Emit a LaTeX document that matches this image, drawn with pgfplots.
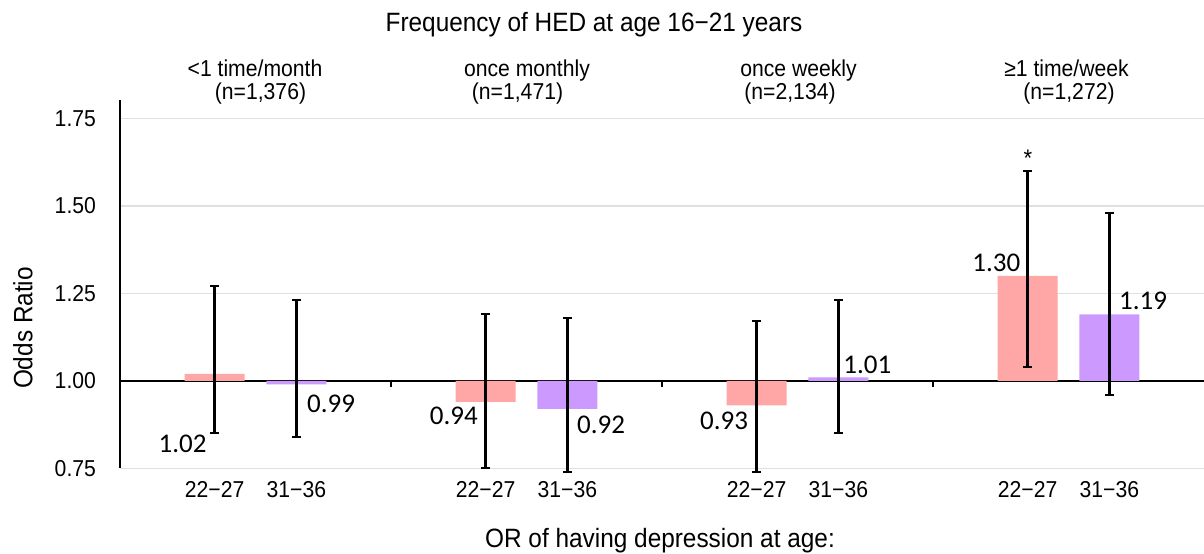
\documentclass[border=0pt]{standalone}
\usepackage{fontspec}
\setmainfont{Liberation Sans}[FakeStretch=0.92]
\newfontfamily\calfont{Carlito}
\usepackage{pgfplots}
\usepackage{pgfplotstable}
\pgfplotsset{compat=1.18}
\definecolor{pinkbar}{HTML}{FFA6A6}
\definecolor{purplebar}{HTML}{CC99FF}
\definecolor{gridgray}{HTML}{E0E0E0}

% group, odds ratio, lower CI, upper CI
\pgfplotstableread{
g or lo hi
1 1.02 0.85 1.27
2 0.94 0.75 1.19
3 0.93 0.74 1.17
4 1.30 1.04 1.60
}\earlytab
\pgfplotstableread{
g or lo hi
1 0.99 0.84 1.23
2 0.92 0.74 1.18
3 1.01 0.85 1.23
4 1.19 0.96 1.48
}\latetab

\begin{document}
\begin{tikzpicture}
\useasboundingbox (-60pt,-42.35pt) rectangle (542pt,234.15pt);
\begin{axis}[
  at={(0,0)}, anchor=south west,
  scale only axis, width=542pt, height=184pt,
  xmin=0.5, xmax=4.5, ymin=-0.25, ymax=0.802,
  axis lines*=left,
  x axis line style={draw=none},
  y axis line style={line width=0.8pt, black},
  xtick={0.849,1.151,1.849,2.151,2.849,3.151,3.849,4.151},
  xticklabels={22−27,31−36,22−27,31−36,22−27,31−36,22−27,31−36},
  ytick={-0.25,0,0.25,0.5,0.75},
  yticklabels={0.75,1.00,1.25,1.50,1.75},
  major tick length=0pt,
  ymajorgrids,
  major grid style={gridgray, line width=0.6pt},
  extra y ticks={0}, extra y tick labels={},
  extra y tick style={major grid style={black, line width=0.8pt}},
  tick label style={font=\fontsize{11.5}{13}\selectfont},
  yticklabel style={xshift=-8.5pt},
  xticklabel style={yshift=-3pt},
  clip=false,
]
\addplot[ybar, bar width=30pt, bar shift=0pt, fill=pinkbar, draw=none,
  error bars/.cd, y dir=both, y explicit,
  error bar style={draw=black, line width=1.1pt},
  error mark options={rotate=90, draw=black, line width=1.1pt, mark size=2.25pt}]
  table[x expr=\thisrow{g}-0.151, y expr=\thisrow{or}-1,
        y error plus expr=\thisrow{hi}-\thisrow{or},
        y error minus expr=\thisrow{or}-\thisrow{lo}] {\earlytab};
\addplot[ybar, bar width=30pt, bar shift=0pt, fill=purplebar, draw=none,
  error bars/.cd, y dir=both, y explicit,
  error bar style={draw=black, line width=1.1pt},
  error mark options={rotate=90, draw=black, line width=1.1pt, mark size=2.25pt}]
  table[x expr=\thisrow{g}+0.151, y expr=\thisrow{or}-1,
        y error plus expr=\thisrow{hi}-\thisrow{or},
        y error minus expr=\thisrow{or}-\thisrow{lo}] {\latetab};

\draw[line width=0.8pt] (axis cs:1.5,0) -- ([yshift=-3pt]axis cs:1.5,0);
\draw[line width=0.8pt] (axis cs:2.5,0) -- ([yshift=-3pt]axis cs:2.5,0);
\draw[line width=0.8pt] (axis cs:3.5,0) -- ([yshift=-3pt]axis cs:3.5,0);

\begin{scope}[every node/.style={font=\calfont\fontsize{13.5}{15}\selectfont, inner sep=0pt}]
\node at (axis cs:0.731,-0.181) {1.02};
\node at (axis cs:1.279,-0.065) {0.99};
\node at (axis cs:1.732,-0.101) {0.94};
\node at (axis cs:2.275,-0.126) {0.92};
\node at (axis cs:2.729,-0.113) {0.93};
\node at (axis cs:3.258,0.047) {1.01};
\node at (axis cs:3.734,0.337) {1.30};
\node at (axis cs:4.275,0.230) {1.19};
\end{scope}
\node[anchor=base, inner sep=0pt, font=\fontsize{12}{13}\selectfont] at (axis cs:3.85,0.613) {*};
\end{axis}

\begin{scope}[every node/.style={inner sep=0pt, anchor=base}]
\node[font=\fontsize{13.25}{15}\selectfont] at (237pt,218.15pt) {Frequency of HED at age 16−21 years};
\node[font=\fontsize{13.25}{15}\selectfont] at (270pt,-39.35pt) {OR of having depression at age:};
\node[font=\fontsize{11.5}{13}\selectfont] at (67.5pt,195.65pt) {<1 time/month};
\node[font=\fontsize{11.5}{13}\selectfont] at (70.25pt,184.65pt) {(n=1,376)};
\node[font=\fontsize{11.5}{13}\selectfont] at (203.5pt,195.65pt) {once monthly};
\node[font=\fontsize{11.5}{13}\selectfont] at (198.75pt,184.65pt) {(n=1,471)};
\node[font=\fontsize{11.5}{13}\selectfont] at (339.25pt,195.65pt) {once weekly};
\node[font=\fontsize{11.5}{13}\selectfont] at (335pt,184.65pt) {(n=2,134)};
\node[font=\fontsize{11.5}{13}\selectfont] at (473.25pt,195.65pt) {≥1 time/week};
\node[font=\fontsize{11.5}{13}\selectfont] at (474.5pt,184.65pt) {(n=1,272)};
\end{scope}
\node[rotate=90, inner sep=0pt, font=\fontsize{13.25}{15}\selectfont] at (-48.5pt,70.15pt) {Odds Ratio};
\end{tikzpicture}
\end{document}
